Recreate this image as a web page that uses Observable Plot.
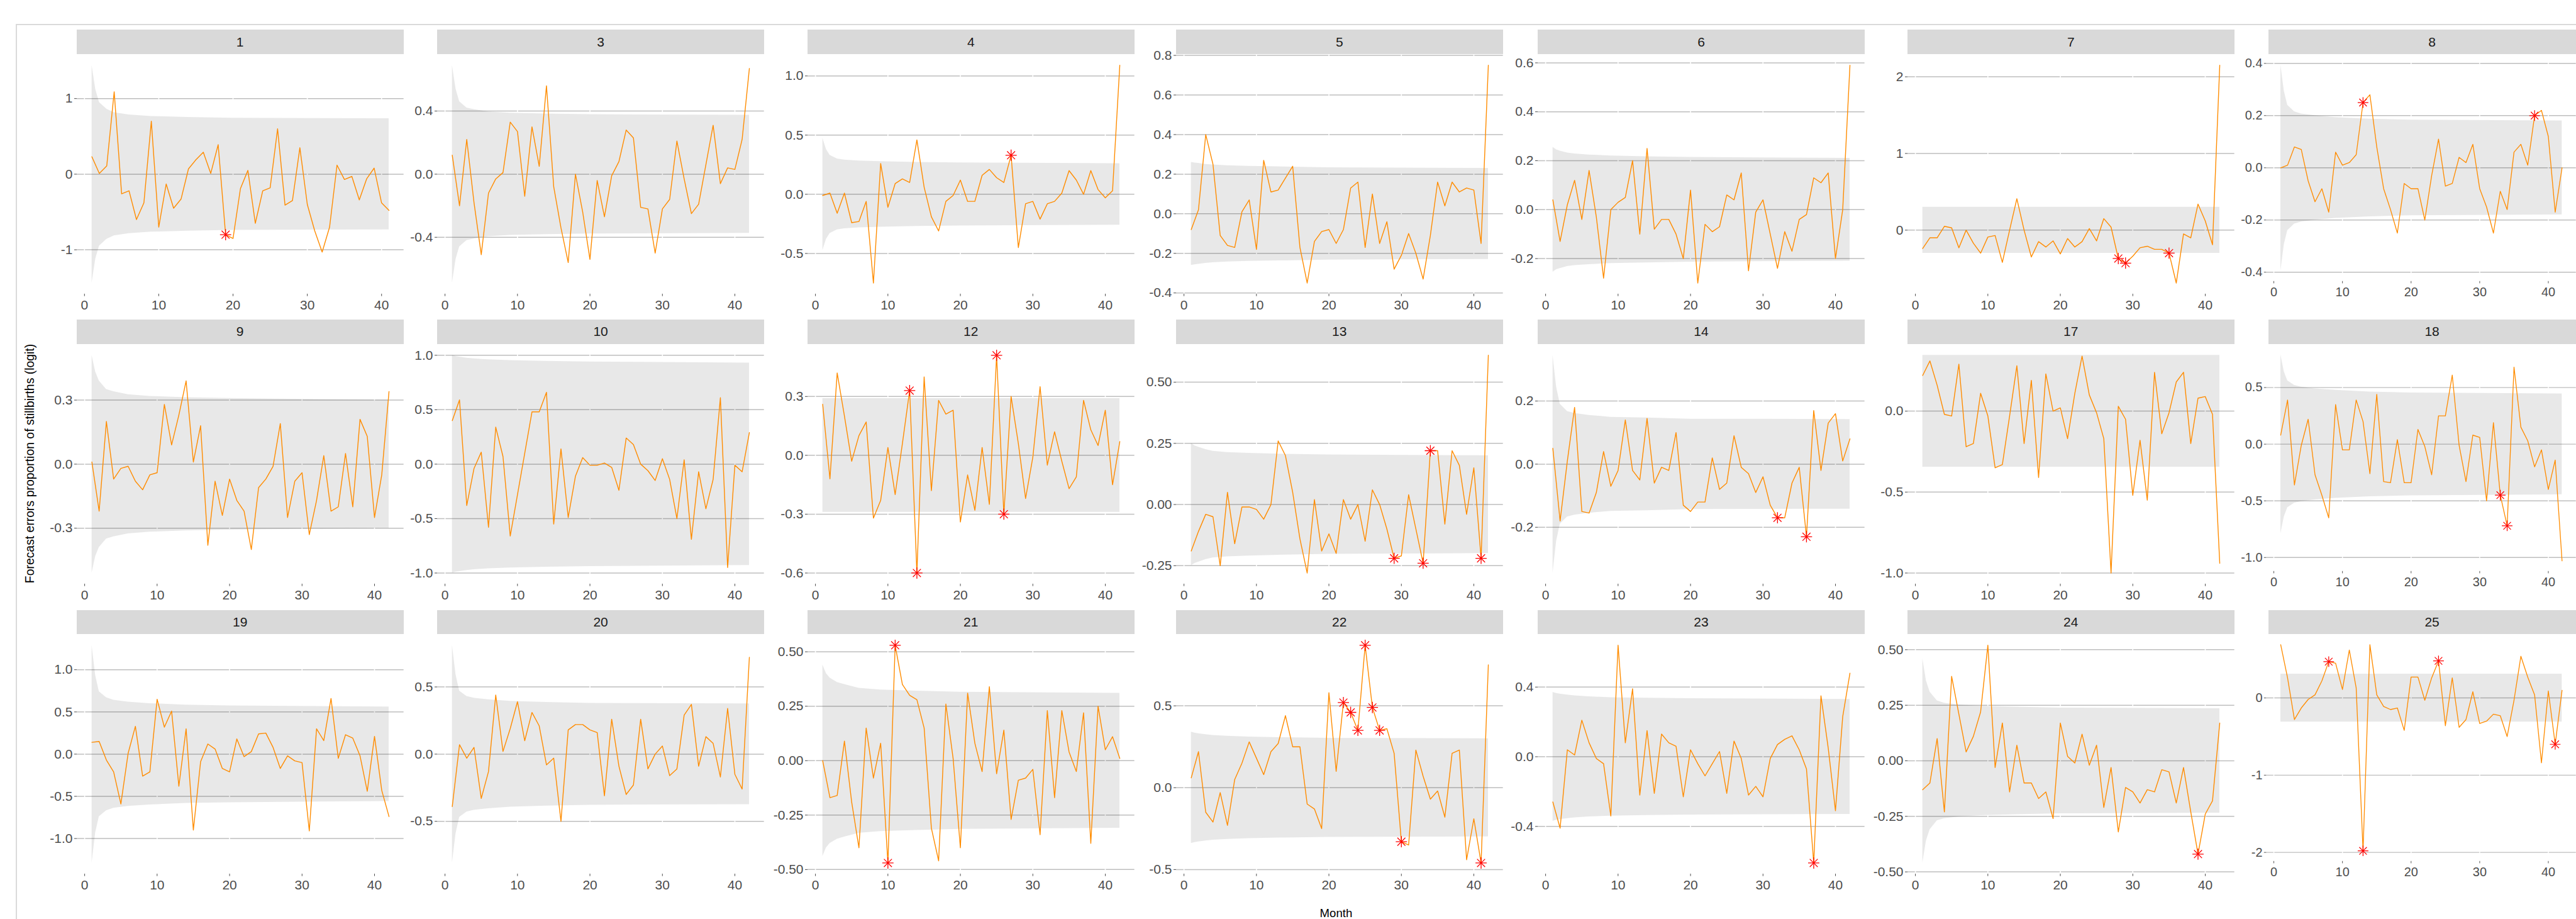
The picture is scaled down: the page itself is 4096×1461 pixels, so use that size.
<!DOCTYPE html>
<html><head><meta charset="utf-8">
<script src="https://cdn.jsdelivr.net/npm/d3@7"></script>
<script src="https://cdn.jsdelivr.net/npm/@observablehq/plot@0.6"></script>
<style>
html,body{margin:0;padding:0;background:#fff;width:4096px;height:1461px;overflow:hidden;font-family:"Liberation Sans",Arial,sans-serif;}
#chart{position:relative;width:4096px;height:1461px;overflow:hidden;}
.strip{position:absolute;background:#D9D9D9;color:#1A1A1A;font-size:21px;display:flex;align-items:center;justify-content:center;}
.panel{position:absolute;}
.frame{position:absolute;border-top:2px solid #DADADA;border-left:2px solid #DADADA;}
.ytitle{position:absolute;white-space:nowrap;font-size:19.4px;color:#000;transform:translate(-50%,-50%) rotate(-90deg);}
.xtitle{position:absolute;white-space:nowrap;font-size:18.6px;color:#000;transform:translateX(-50%);line-height:1;}
</style>
</head><body><div id="chart"></div>
<script>
// ---------------- data ----------------
const panelIds = ["1","3","4","5","6","7","8","9","10","12","13","14","17","18","19","20","21","22","23","24","25"];

// forecast errors, months 1..n
const err1 = [0.23,0.01,0.11,1.09,-0.26,-0.22,-0.60,-0.38,0.70,-0.70,-0.13,-0.45,-0.33,0.07,0.19,0.29,0.01,0.39,-0.80,-0.85,-0.19,0.05,-0.65,-0.22,-0.18,0.60,-0.41,-0.35,0.35,-0.40,-0.75,-1.03,-0.70,0.12,-0.07,-0.03,-0.34,-0.06,0.08,-0.38,-0.48];
const err3 = [0.12,-0.20,0.22,-0.18,-0.51,-0.12,-0.03,0.01,0.33,0.27,-0.14,0.30,0.05,0.56,-0.08,-0.34,-0.56,0.00,-0.24,-0.54,-0.04,-0.27,-0.01,0.08,0.28,0.23,-0.21,-0.22,-0.50,-0.22,-0.16,0.21,-0.03,-0.25,-0.19,0.06,0.31,-0.06,0.04,0.03,0.22,0.67];
const err4 = [-0.01,0.01,-0.16,0.01,-0.24,-0.23,-0.06,-0.75,0.26,-0.11,0.09,0.13,0.10,0.46,0.06,-0.19,-0.31,-0.06,-0.01,0.12,-0.06,-0.06,0.16,0.21,0.14,0.10,0.33,-0.45,-0.08,-0.06,-0.21,-0.08,-0.06,0.01,0.20,0.12,0.00,0.20,0.04,-0.03,0.03,1.09];
const err5 = [-0.08,0.02,0.40,0.25,-0.11,-0.16,-0.17,0.01,0.07,-0.18,0.27,0.11,0.12,0.18,0.24,-0.17,-0.35,-0.14,-0.09,-0.08,-0.15,-0.08,0.13,0.16,-0.17,0.10,-0.15,-0.04,-0.28,-0.21,-0.10,-0.20,-0.33,-0.11,0.16,0.04,0.16,0.11,0.13,0.12,-0.15,0.75];
const err6 = [0.04,-0.13,0.02,0.12,-0.04,0.16,-0.03,-0.28,0.00,0.03,0.05,0.20,-0.10,0.25,-0.08,-0.04,-0.04,-0.10,-0.20,0.08,-0.30,-0.06,-0.09,-0.07,0.06,0.04,0.15,-0.25,-0.01,0.04,-0.10,-0.24,-0.09,-0.17,-0.04,-0.02,0.13,0.11,0.15,-0.20,0.00,0.59];
const err7 = [-0.24,-0.10,-0.10,0.05,0.03,-0.23,0.00,-0.17,-0.30,-0.09,-0.07,-0.42,0.00,0.41,0.00,-0.35,-0.15,-0.22,-0.14,-0.31,-0.11,-0.22,-0.15,0.02,-0.14,0.15,0.04,-0.37,-0.43,-0.34,-0.23,-0.21,-0.25,-0.25,-0.30,-0.69,-0.05,-0.10,0.34,0.12,-0.19,2.15];
const err8 = [0.00,0.01,0.08,0.07,-0.05,-0.13,-0.08,-0.17,0.06,0.01,0.02,0.05,0.25,0.28,0.08,-0.08,-0.16,-0.25,-0.06,-0.08,-0.08,-0.20,-0.03,0.11,-0.07,-0.06,0.04,0.02,0.09,-0.08,-0.15,-0.25,-0.09,-0.16,0.06,0.09,0.01,0.20,0.22,0.12,-0.17,0.00];
const err9 = [0.01,-0.22,0.20,-0.07,-0.02,-0.01,-0.08,-0.12,-0.05,-0.04,0.28,0.09,0.23,0.39,0.01,0.18,-0.38,-0.08,-0.24,-0.07,-0.17,-0.22,-0.40,-0.11,-0.07,-0.01,0.19,-0.25,-0.08,-0.04,-0.33,-0.17,0.04,-0.22,-0.20,0.05,-0.20,0.21,0.13,-0.25,-0.05,0.34];
const err10 = [0.40,0.59,-0.38,-0.04,0.11,-0.58,0.34,0.07,-0.66,-0.28,0.10,0.48,0.48,0.66,-0.55,0.14,-0.49,-0.11,0.06,-0.01,-0.01,0.01,-0.03,-0.24,0.24,0.18,0.00,-0.06,-0.15,0.05,-0.14,-0.50,0.04,-0.69,-0.07,-0.41,-0.14,0.61,-0.95,-0.01,-0.07,0.29];
const err12 = [0.26,-0.12,0.42,0.20,-0.03,0.10,0.17,-0.32,-0.23,0.04,-0.20,0.06,0.33,-0.60,0.40,-0.18,0.28,0.21,0.23,-0.34,-0.10,-0.28,0.04,-0.25,0.51,-0.30,0.30,0.06,-0.22,-0.01,0.35,-0.05,0.12,-0.03,-0.17,-0.11,0.28,0.13,0.05,0.23,-0.15,0.07];
const err13 = [-0.19,-0.11,-0.04,-0.05,-0.25,0.05,-0.16,-0.01,-0.01,-0.02,-0.06,0.00,0.26,0.20,0.05,-0.14,-0.28,0.02,-0.19,-0.12,-0.20,0.02,-0.06,0.00,-0.15,0.06,0.00,-0.10,-0.22,-0.21,0.04,-0.10,-0.24,0.22,0.22,-0.08,0.22,0.16,-0.04,0.15,-0.22,0.61];
const err14 = [0.05,-0.18,0.01,0.18,-0.15,-0.155,-0.09,0.04,-0.07,-0.02,0.14,-0.02,-0.05,0.145,-0.06,-0.01,-0.02,0.10,-0.13,-0.15,-0.12,-0.12,0.02,-0.08,-0.06,0.09,-0.01,-0.03,-0.09,-0.04,-0.13,-0.17,-0.17,-0.06,-0.01,-0.23,0.17,-0.02,0.13,0.16,0.01,0.08];
const err17 = [0.22,0.31,0.16,-0.02,-0.03,0.29,-0.22,-0.20,0.11,-0.03,-0.35,-0.33,-0.03,0.28,-0.20,0.19,-0.41,0.23,0.00,0.02,-0.17,0.11,0.34,0.10,-0.01,-0.17,-1.00,0.03,-0.05,-0.52,-0.18,-0.55,0.24,-0.14,-0.01,0.18,0.24,-0.20,0.08,0.09,-0.02,-0.94];
const err18 = [0.08,0.39,-0.36,-0.01,0.22,-0.27,-0.45,-0.65,0.35,-0.05,-0.05,0.39,0.20,-0.26,0.44,-0.33,-0.34,0.04,-0.34,-0.34,0.13,-0.02,-0.27,0.25,0.25,0.61,-0.01,-0.33,0.08,0.06,-0.50,0.19,-0.45,-0.72,0.68,0.15,0.03,-0.20,-0.05,-0.40,-0.14,-1.03];
const err19 = [0.14,0.15,-0.07,-0.21,-0.59,0.01,0.33,-0.26,-0.21,0.65,0.32,0.51,-0.38,0.30,-0.90,-0.09,0.12,0.06,-0.17,-0.21,0.18,-0.03,0.03,0.24,0.25,0.08,-0.17,-0.02,-0.08,-0.10,-0.91,0.30,0.16,0.66,-0.05,0.23,0.19,-0.02,-0.44,0.21,-0.43,-0.74];
const err20 = [-0.39,0.07,-0.03,0.05,-0.33,-0.13,0.44,0.02,0.19,0.39,0.10,0.31,0.21,-0.08,-0.03,-0.50,0.18,0.22,0.22,0.18,0.16,-0.31,0.26,-0.09,-0.30,-0.23,0.26,-0.11,0.00,0.06,-0.16,-0.11,0.29,0.37,-0.09,0.13,0.08,-0.17,0.34,-0.15,-0.26,0.72];
const err21 = [0.00,-0.17,-0.16,0.09,-0.19,-0.40,0.15,-0.08,0.08,-0.47,0.53,0.35,0.30,0.28,0.15,-0.31,-0.46,0.26,0.01,-0.40,0.31,0.08,-0.05,0.34,-0.06,0.14,-0.27,-0.09,-0.08,-0.04,-0.34,0.23,-0.17,0.23,0.04,-0.05,0.22,-0.38,0.25,0.05,0.11,0.01];
const err22 = [0.06,0.22,-0.15,-0.21,-0.03,-0.23,0.05,0.15,0.28,0.18,0.08,0.22,0.27,0.44,0.25,0.25,-0.10,-0.13,-0.25,0.58,0.10,0.52,0.46,0.35,0.87,0.49,0.35,0.36,0.21,-0.33,-0.35,0.23,0.07,-0.07,-0.02,-0.18,0.21,0.23,-0.44,-0.19,-0.46,0.75];
const err23 = [-0.26,-0.41,0.04,0.01,0.21,0.08,-0.01,-0.04,-0.34,0.64,0.08,0.39,-0.22,0.15,-0.21,0.13,0.08,0.06,-0.23,0.04,-0.04,-0.11,-0.04,0.03,-0.21,0.09,-0.01,-0.22,-0.17,-0.23,-0.01,0.07,0.10,0.12,0.04,-0.07,-0.61,0.35,0.05,-0.31,0.23,0.48];
const err24 = [-0.13,-0.10,0.10,-0.23,0.38,0.21,0.04,0.11,0.22,0.52,-0.03,0.17,-0.14,0.07,-0.10,-0.10,-0.17,-0.14,-0.26,0.17,0.02,-0.01,0.12,-0.02,0.07,-0.21,-0.03,-0.32,-0.12,-0.14,-0.19,-0.13,-0.14,-0.04,-0.05,-0.19,-0.03,-0.23,-0.42,-0.24,-0.18,0.17];
const err25 = [0.69,0.26,-0.28,-0.13,-0.02,0.04,0.22,0.47,0.45,0.11,0.62,0.13,-1.98,0.69,0.04,-0.11,-0.15,-0.13,-0.42,0.27,0.27,-0.03,0.26,0.48,-0.36,0.26,-0.38,-0.28,0.08,-0.33,-0.30,-0.21,-0.23,-0.50,-0.03,0.54,0.27,0.04,-0.84,0.09,-0.60,0.10];

// half-width of the grey interval at the knot months (last knot = last month)
const bandKnots = [1, 1.5, 2, 3, 4, 6, 9, 14, 20];
const band1 = [1.44,1.12,0.95,0.86,0.815,0.785,0.765,0.752,0.742,0.735];
const band3 = [0.69,0.54,0.46,0.42,0.41,0.395,0.387,0.382,0.378,0.374];
const band4 = [0.475,0.38,0.33,0.30,0.29,0.282,0.277,0.27,0.266,0.26];
const band5 = [0.26,0.257,0.255,0.25,0.247,0.243,0.24,0.237,0.233,0.23];
const band6 = [0.255,0.245,0.24,0.232,0.228,0.224,0.22,0.217,0.214,0.21];
const band7 = [0.30,0.30,0.30,0.30,0.30,0.30,0.30,0.30,0.30,0.30];
const band8 = [0.395,0.294,0.24,0.215,0.207,0.20,0.193,0.187,0.183,0.18];
const band9 = [0.51,0.432,0.39,0.35,0.34,0.326,0.318,0.312,0.308,0.30];
const band10 = [1.0,0.99,0.985,0.975,0.968,0.96,0.952,0.945,0.94,0.93];
const band12 = [0.29,0.29,0.29,0.29,0.29,0.29,0.29,0.29,0.29,0.29];
const band13 = [0.25,0.24,0.235,0.225,0.218,0.213,0.21,0.206,0.203,0.20];
const band14 = [0.345,0.244,0.19,0.167,0.161,0.155,0.149,0.147,0.143,0.142];
const band17 = [0.345,0.345,0.345,0.345,0.345,0.345,0.345,0.345,0.345,0.345];
const band18 = [0.79,0.64,0.56,0.52,0.505,0.49,0.477,0.462,0.454,0.445];
const band19 = [1.29,0.93,0.74,0.67,0.64,0.617,0.60,0.583,0.574,0.56];
const band20 = [0.81,0.59,0.47,0.43,0.417,0.405,0.394,0.386,0.379,0.375];
const band21 = [0.44,0.40,0.38,0.36,0.35,0.333,0.325,0.32,0.315,0.31];
const band22 = [0.34,0.334,0.33,0.325,0.32,0.315,0.31,0.306,0.303,0.30];
const band23 = [0.37,0.364,0.36,0.355,0.35,0.345,0.34,0.337,0.334,0.33];
const band24 = [0.46,0.36,0.31,0.27,0.26,0.252,0.246,0.242,0.238,0.235];
const band25 = [0.31,0.31,0.31,0.31,0.31,0.31,0.31,0.31,0.31,0.31];

// months flagged with a red asterisk
const out1 = [19], out3 = [], out4 = [27], out5 = [], out6 = [], out7 = [28,29,35], out8 = [13,38];
const out9 = [], out10 = [], out12 = [13,14,25,26], out13 = [29,33,34,41], out14 = [32,36], out17 = [], out18 = [33,34];
const out19 = [], out20 = [], out21 = [10,11], out22 = [22,23,24,25,26,27,30,41], out23 = [37], out24 = [39], out25 = [8,13,24,41];

// y tick labels per panel
const ylab1 = ["-1","0","1"], ylab3 = ["-0.4","0.0","0.4"], ylab4 = ["-0.5","0.0","0.5","1.0"];
const ylab5 = ["-0.4","-0.2","0.0","0.2","0.4","0.6","0.8"], ylab6 = ["-0.2","0.0","0.2","0.4","0.6"], ylab7 = ["0","1","2"];
const ylab8 = ["-0.4","-0.2","0.0","0.2","0.4"], ylab9 = ["-0.3","0.0","0.3"], ylab10 = ["-1.0","-0.5","0.0","0.5","1.0"];
const ylab12 = ["-0.6","-0.3","0.0","0.3"], ylab13 = ["-0.25","0.00","0.25","0.50"], ylab14 = ["-0.2","0.0","0.2"];
const ylab17 = ["-1.0","-0.5","0.0"], ylab18 = ["-1.0","-0.5","0.0","0.5"], ylab19 = ["-1.0","-0.5","0.0","0.5","1.0"];
const ylab20 = ["-0.5","0.0","0.5"], ylab21 = ["-0.50","-0.25","0.00","0.25","0.50"], ylab22 = ["-0.5","0.0","0.5"];
const ylab23 = ["-0.4","0.0","0.4"], ylab24 = ["-0.50","-0.25","0.00","0.25","0.50"], ylab25 = ["-2","-1","0"];

const xTickValues = [0, 10, 20, 30, 40];

const seriesList = [err1,err3,err4,err5,err6,err7,err8,err9,err10,err12,err13,err14,err17,err18,err19,err20,err21,err22,err23,err24,err25];
const bandList = [band1,band3,band4,band5,band6,band7,band8,band9,band10,band12,band13,band14,band17,band18,band19,band20,band21,band22,band23,band24,band25];
const outList = [out1,out3,out4,out5,out6,out7,out8,out9,out10,out12,out13,out14,out17,out18,out19,out20,out21,out22,out23,out24,out25];
const ylabList = [ylab1,ylab3,ylab4,ylab5,ylab6,ylab7,ylab8,ylab9,ylab10,ylab12,ylab13,ylab14,ylab17,ylab18,ylab19,ylab20,ylab21,ylab22,ylab23,ylab24,ylab25];

// ---------------- layout ----------------
const S = 0.896;
const colLeft = [136, 776, 1433, 2087, 2729, 3385, 4026].map(v => v * S);
const rowTop = [53, 567, 1082.5].map(v => v * S);
const stripH = 43 * S, panelW = 580 * S, panelH = 425 * S;
const ML = 64, MB = 40;
const FONT = '"Liberation Sans", Arial, sans-serif';

const chart = document.getElementById("chart");

const frame = document.createElement("div");
frame.className = "frame";
Object.assign(frame.style, {left: (28 * S) + "px", top: (42 * S) + "px", width: "5000px", height: "3000px"});
chart.appendChild(frame);

panelIds.forEach((id, i) => {
  const col = i % 7, row = Math.floor(i / 7);
  const vals = seriesList[i], half = bandList[i], outs = outList[i], ylab = ylabList[i];
  const last = vals.length;
  const data = vals.map((v, k) => ({m: k + 1, v}));
  const knots = [...bandKnots, last];
  const band = knots.map((m, k) => ({m, hi: half[k], lo: -half[k]}));
  const pts = outs.map(m => ({m, v: vals[m - 1]}));
  const ext = d3.extent([...vals, ...half, ...half.map(h => -h)]);
  const pad = (ext[1] - ext[0]) * 0.05;
  const xpad = (last - 1) * 0.05;
  const yt = ylab.map(Number);

  const strip = document.createElement("div");
  strip.className = "strip";
  Object.assign(strip.style, {left: colLeft[col] + "px", top: rowTop[row] + "px", width: panelW + "px", height: stripH + "px"});
  strip.textContent = id;
  chart.appendChild(strip);

  const svg = Plot.plot({
    width: ML + panelW,
    height: panelH + MB,
    marginLeft: ML, marginRight: 0, marginTop: 0, marginBottom: MB,
    style: {background: "transparent", overflow: "visible", fontFamily: FONT, fontSize: "21px", color: "#4D4D4D"},
    x: {domain: [1 - xpad, last + xpad], ticks: xTickValues, tickFormat: d => String(d), tickSize: 4, tickPadding: 6, label: null},
    y: {domain: [ext[0] - pad, ext[1] + pad], ticks: yt, tickFormat: d => ylab[yt.indexOf(d)], tickSize: 4, tickPadding: 3, label: null},
    marks: [
      Plot.ruleY(yt, {stroke: "#BEBEBE", strokeWidth: 1.5}),
      Plot.ruleX(xTickValues, {stroke: "#FFFFFF", strokeWidth: 1.6}),
      Plot.areaY(band, {x: "m", y1: "lo", y2: "hi", fill: "#000000", fillOpacity: 0.09}),
      Plot.lineY(data, {x: "m", y: "v", stroke: "#FF8C00", strokeWidth: 1.4}),
      Plot.dot(pts, {x: "m", y: "v", symbol: "plus", r: 5.8, stroke: "#FF0000", fill: "none", strokeWidth: 1.3}),
      Plot.dot(pts, {x: "m", y: "v", symbol: "times", r: 5.8, stroke: "#FF0000", fill: "none", strokeWidth: 1.3})
    ]
  });
  const wrap = document.createElement("div");
  wrap.className = "panel";
  Object.assign(wrap.style, {left: (colLeft[col] - ML) + "px", top: (rowTop[row] + stripH) + "px"});
  wrap.appendChild(svg);
  chart.appendChild(wrap);
});

const yt = document.createElement("div");
yt.className = "ytitle";
yt.textContent = "Forecast errors proportion of stillbirths (logit)";
Object.assign(yt.style, {left: (53 * S) + "px", top: (823 * S) + "px"});
chart.appendChild(yt);

const xt = document.createElement("div");
xt.className = "xtitle";
xt.textContent = "Month";
Object.assign(xt.style, {left: (2371 * S) + "px", top: (1611 * S) + "px"});
chart.appendChild(xt);
</script>
</body></html>
